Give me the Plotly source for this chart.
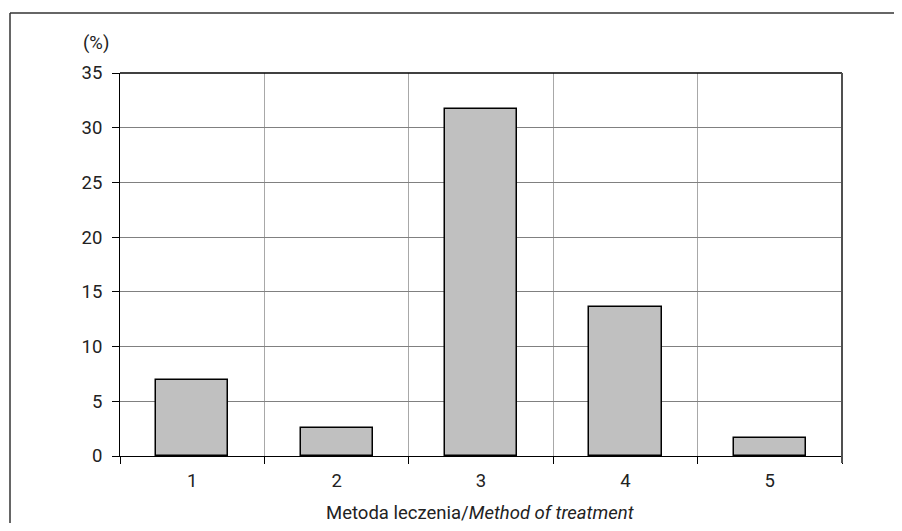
import plotly.graph_objects as go

categories = [1, 2, 3, 4, 5]
values = [6.9, 2.6, 31.7, 13.6, 1.6]
tick_labels = ["1", "2", "3", "4", "5"]
x_title = "Metoda leczenia/<i>Method of treatment</i>"
y_unit = "(%)"

FONT = "Roboto, sans-serif"
FS = 18.5

fig = go.Figure(go.Bar(
    x=categories, y=values, width=0.5,
    marker=dict(color="#c0c0c0", line=dict(color="#000000", width=1.5)),
))

# page body adds an 8px margin on every side; keep the figure inside the window
W, H = 886, 515
ml, mt = 112, 65
pw, ph = 722, 383
mr, mb = W - ml - pw, H - mt - ph

fig.update_layout(
    width=W, height=H,
    margin=dict(l=ml, r=mr, t=mt, b=mb, pad=0, autoexpand=False),
    paper_bgcolor="white", plot_bgcolor="white",
    font=dict(family=FONT, size=FS, color="#222222"),
    showlegend=False,
    bargap=0,
)
fig.update_xaxes(
    range=[0.5, 5.5], automargin=False,
    tickvals=categories, ticktext=tick_labels, ticks="",
    ticklabelstandoff=8,
    showgrid=False, zeroline=False,
    showline=True, linecolor="#000000", linewidth=1,
    tickfont=dict(size=FS),
    minor=dict(tickvals=[0.5, 1.5, 2.5, 3.5, 4.5, 5.5], ticks="outside", ticklen=7,
               tickcolor="#000000", showgrid=True, gridcolor="#a8a8a8", gridwidth=1),
)
fig.update_yaxes(
    range=[0, 35], tickvals=[0, 5, 10, 15, 20, 25, 30, 35], automargin=False,
    ticks="outside", ticklen=7, tickcolor="#000000",
    ticklabelstandoff=6,
    showgrid=True, gridcolor="#808080", gridwidth=1,
    zeroline=False, showline=True, linecolor="#000000", linewidth=1,
    tickfont=dict(size=FS),
)

# top and right frame of plot area
fig.add_shape(type="line", xref="paper", yref="paper", x0=0, x1=1, y0=1, y1=1,
              line=dict(color="#000000", width=1.5))
fig.add_shape(type="line", xref="paper", yref="paper", x0=1, x1=1, y0=-7/ph, y1=1,
              line=dict(color="#505050", width=2))

# outer figure border: left and top edges (screen x=10, y=13 -> figure coords minus 8)
bx0 = (2 - ml) / pw
bx1 = (W - ml) / pw
by0 = -(mb + 40) / ph
by1 = 1 + (mt - 5) / ph
fig.add_shape(type="line", xref="paper", yref="paper", x0=bx0, x1=bx0, y0=by0, y1=by1,
              line=dict(color="#333333", width=1.5), layer="below")
fig.add_shape(type="line", xref="paper", yref="paper", x0=bx0, x1=bx1, y0=by1, y1=by1,
              line=dict(color="#333333", width=1.5), layer="below")

fig.add_annotation(text=y_unit, xref="paper", yref="paper",
                   x=(88 - ml) / pw, y=1 + (mt - 35) / ph,
                   showarrow=False, font=dict(size=FS), xanchor="center", yanchor="middle")
fig.add_annotation(text=x_title, xref="paper", yref="paper",
                   x=(472 - ml) / pw, y=-57 / ph,
                   showarrow=False, font=dict(size=FS), xanchor="center", yanchor="middle")

fig.write_html("out.html")
